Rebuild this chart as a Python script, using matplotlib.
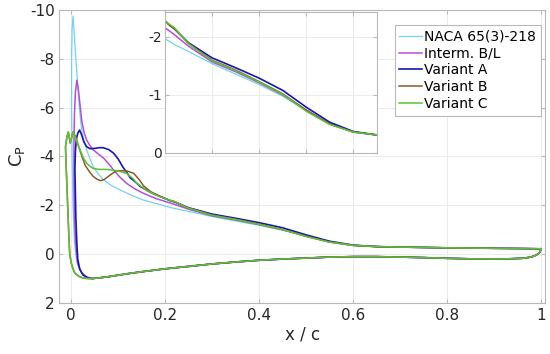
import matplotlib
matplotlib.use('Agg')
import matplotlib.pyplot as plt
import numpy as np

plt.rcParams['axes.unicode_minus'] = False

# Pressure distributions (x/c, Cp)
# shared lower surface, trailing edge -> stagnation region
lower_x = [1.0, 0.998, 0.993, 0.985, 0.975, 0.96, 0.93, 0.9, 0.85, 0.8, 0.75, 0.7,
           0.65, 0.6, 0.55, 0.5, 0.45, 0.4, 0.35, 0.3, 0.25, 0.2, 0.15, 0.12,
           0.1, 0.08, 0.06]
lower_cp = [-0.22, -0.1, 0.0, 0.08, 0.13, 0.17, 0.19, 0.2, 0.19, 0.17, 0.14, 0.12,
            0.1, 0.1, 0.12, 0.16, 0.2, 0.25, 0.32, 0.4, 0.5, 0.6, 0.72, 0.8,
            0.86, 0.92, 0.97]

# shared aft upper surface stations
upper_x = [0.25, 0.3, 0.35, 0.4, 0.45, 0.5, 0.55, 0.6, 0.65, 0.7, 0.8, 0.9, 0.96, 1.0]

# leading edge part (stagnation -> LE -> upper surface to x=0.22), per series
naca_le_x = [0.045, 0.032, 0.02, 0.012, 0.007, 0.004, 0.002, 0.001, 0.001, 0.002,
             0.004, 0.006, 0.008, 0.01, 0.012, 0.015, 0.017, 0.02, 0.023, 0.028,
             0.033, 0.04, 0.047, 0.058, 0.069, 0.085, 0.104, 0.13, 0.153, 0.18,
             0.2, 0.22]
naca_le_cp = [1.0, 0.92, 0.7, 0.3, -0.5, -2.0, -4.0, -6.0, -8.0, -9.2,
              -9.75, -9.2, -8.6, -8.0, -7.46, -6.7, -6.1, -5.5, -5.0, -4.6,
              -4.27, -3.9, -3.58, -3.28, -3.04, -2.82, -2.63, -2.4, -2.22, -2.08,
              -1.97, -1.87]
naca_up_cp = [-1.75, -1.54, -1.36, -1.18, -0.98, -0.73, -0.5, -0.36, -0.31, -0.29,
              -0.26, -0.24, -0.23, -0.22]

interm_le_x = [0.045, 0.033, 0.022, 0.014, 0.01, 0.007, 0.006, 0.006, 0.007, 0.009,
               0.012, 0.015, 0.019, 0.023, 0.028, 0.033, 0.04, 0.047, 0.058, 0.069,
               0.08, 0.09, 0.104, 0.118, 0.135, 0.153, 0.18, 0.21, 0.22]
interm_le_cp = [1.0, 0.93, 0.75, 0.4, -0.3, -1.5, -3.0, -4.5, -5.7, -6.6,
                -7.12, -6.8, -6.1, -5.4, -4.95, -4.67, -4.45, -4.27, -4.1, -3.93,
                -3.7, -3.45, -3.15, -2.9, -2.68, -2.5, -2.28, -2.1, -2.04]
interm_up_cp = [-1.84, -1.57, -1.4, -1.21, -1.0, -0.74, -0.5, -0.36, -0.31, -0.29,
                -0.26, -0.24, -0.23, -0.22]

var_a_le_x = [0.045, 0.035, 0.025, 0.018, 0.014, 0.012, 0.01, 0.009, 0.008, 0.009,
              0.011, 0.014, 0.018, 0.022, 0.027, 0.033, 0.04, 0.05, 0.06, 0.068,
              0.08, 0.09, 0.1, 0.11, 0.12, 0.126, 0.137, 0.147, 0.17, 0.19, 0.21,
              0.22]
var_a_le_cp = [1.0, 0.97, 0.85, 0.6, 0.2, -0.5, -1.5, -2.5, -3.5, -4.2,
               -4.7, -4.95, -5.08, -4.9, -4.6, -4.4, -4.32, -4.33, -4.36, -4.36,
               -4.28, -4.14, -3.9, -3.57, -3.3, -3.12, -2.95, -2.77, -2.52, -2.36, -2.2,
               -2.14]
var_a_up_cp = [-1.9, -1.64, -1.47, -1.29, -1.08, -0.79, -0.53, -0.37, -0.31, -0.29,
               -0.26, -0.24, -0.23, -0.22]

var_b_le_x = [0.04, 0.03, 0.023, 0.016, 0.008, 0.004, 0.0, -0.003, -0.005, -0.007,
              -0.009, -0.011, -0.012, -0.009, -0.006, -0.002, 0.004, 0.01, 0.016, 0.023,
              0.03, 0.04, 0.047, 0.055, 0.062, 0.07, 0.083, 0.095, 0.108, 0.12,
              0.133, 0.145, 0.154, 0.17, 0.19, 0.21, 0.22]
var_b_le_cp = [1.0, 0.99, 0.96, 0.9, 0.78, 0.6, 0.35, 0.0, -0.8, -1.8,
               -2.8, -3.8, -4.4, -4.8, -5.0, -4.55, -5.0, -4.8, -4.4, -4.0,
               -3.63, -3.35, -3.18, -3.07, -3.01, -3.05, -3.24, -3.4, -3.42, -3.4,
               -3.31, -3.05, -2.8, -2.55, -2.36, -2.2, -2.14]
var_b_up_cp = [-1.89, -1.6, -1.43, -1.23, -1.02, -0.74, -0.5, -0.36, -0.31, -0.29,
               -0.26, -0.24, -0.23, -0.22]

var_c_le_x = [0.04, 0.03, 0.023, 0.016, 0.008, 0.004, 0.0, -0.003, -0.005, -0.007,
              -0.009, -0.011, -0.012, -0.009, -0.006, -0.002, 0.004, 0.008, 0.012, 0.019,
              0.026, 0.033, 0.04, 0.047, 0.06, 0.076, 0.097, 0.118, 0.13, 0.14,
              0.16, 0.18, 0.2, 0.22]
var_c_le_cp = [1.0, 0.99, 0.96, 0.9, 0.78, 0.6, 0.35, 0.0, -0.8, -1.8,
               -2.8, -3.8, -4.4, -4.8, -5.0, -4.55, -5.0, -4.85, -4.6, -4.27,
               -3.95, -3.72, -3.6, -3.51, -3.47, -3.47, -3.42, -3.31, -3.12, -2.9,
               -2.62, -2.42, -2.27, -2.16]
var_c_up_cp = [-1.88, -1.59, -1.42, -1.22, -1.01, -0.72, -0.49, -0.36, -0.31, -0.29,
               -0.26, -0.24, -0.23, -0.22]

labels = ['NACA 65(3)-218', 'Interm. B/L', 'Variant A', 'Variant B', 'Variant C']
colors = ['#72d2f2', '#b24fdc', '#1616b4', '#8b5a2b', '#5cc233']
widths = [0.9, 1.1, 1.2, 1.1, 1.1]

series = [
    (naca_le_x, naca_le_cp, naca_up_cp),
    (interm_le_x, interm_le_cp, interm_up_cp),
    (var_a_le_x, var_a_le_cp, var_a_up_cp),
    (var_b_le_x, var_b_le_cp, var_b_up_cp),
    (var_c_le_x, var_c_le_cp, var_c_up_cp),
]


def full_curve(le_x, le_cp, up_cp):
    """Join lower surface, leading edge and aft upper surface."""
    x = np.concatenate([lower_x, le_x, upper_x])
    cp = np.concatenate([lower_cp, le_cp, up_cp])
    return x, cp


def style_axes(ax, size):
    for s in ax.spines.values():
        s.set_color('#b8b8b8')
        s.set_linewidth(0.8)
    ax.tick_params(direction='in', length=3, color='#b8b8b8',
                   labelcolor='#262626', labelsize=size, top=True, right=True)
    ax.grid(True, color='#ebebeb', linewidth=0.7)
    ax.set_axisbelow(True)


fig = plt.figure(figsize=(5.5, 3.54), dpi=100)
ax = fig.add_axes([0.108, 0.144, 0.883, 0.828])

for (le_x, le_cp, up_cp), lab, col, lw in zip(series, labels, colors, widths):
    x, cp = full_curve(le_x, le_cp, up_cp)
    ax.plot(x, cp, color=col, lw=lw, label=lab)

ax.set_xlim(-0.025, 1.0085)
ax.set_ylim(2, -10)
ax.set_xticks([0, 0.2, 0.4, 0.6, 0.8, 1.0])
ax.set_xticklabels(['0', '0.2', '0.4', '0.6', '0.8', '1'])
ax.set_yticks([-10, -8, -6, -4, -2, 0, 2])
style_axes(ax, 11)
ax.set_xlabel('x / c', fontsize=12, color='#262626', labelpad=2)
ax.set_ylabel('C$_\\mathregular{P}$', fontsize=13, color='#262626', labelpad=2)

leg = ax.legend(loc='upper right', bbox_to_anchor=(0.992, 0.949), borderaxespad=0,
                fontsize=10, handlelength=1.6, handletextpad=0.2, borderpad=0.35,
                labelspacing=0.2, fancybox=False, framealpha=1)
leg.get_frame().set_edgecolor('#b8b8b8')
leg.get_frame().set_linewidth(0.8)

# zoomed inset of the mid-chord upper surface
axin = fig.add_axes([0.3, 0.568, 0.385, 0.398])
for (le_x, le_cp, up_cp), col, lw in zip(series, colors, widths):
    x, cp = full_curve(le_x, le_cp, up_cp)
    axin.plot(x, cp, color=col, lw=lw)
axin.set_xlim(0.2, 0.65)
axin.set_ylim(0, -2.43)
axin.set_xticks([0.3, 0.4, 0.5, 0.6])
axin.set_xticklabels([])
axin.set_yticks([-2, -1, 0])
style_axes(axin, 10)
axin.tick_params(pad=2)

fig.savefig('out.png', dpi=100)
